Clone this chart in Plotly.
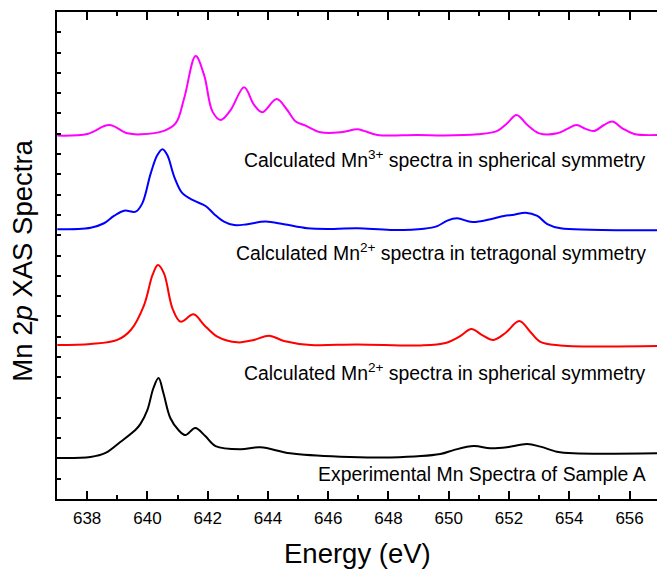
import plotly.graph_objects as go

# Energies (eV) and plotted intensities (arb. units, vertically offset)
mn3_sph_E = [637.01, 638.01, 638.73, 639.34, 639.78, 640.55, 640.94, 641.22, 641.60, 641.88,
             642.16, 642.43, 642.76, 643.21, 643.54, 643.81, 644.29, 644.64, 644.92, 645.25,
             645.75, 646.41, 646.97, 647.19, 647.63, 648.96, 649.84, 650.95, 651.61, 651.94,
             652.25, 652.61, 653.00, 653.60, 653.93, 654.24, 654.54, 654.82, 655.15, 655.43,
             655.76, 656.15, 656.93]
mn3_sph_I = [17.91, 17.99, 18.43, 18.02, 17.97, 18.14, 18.52, 19.75, 21.83, 20.90,
             19.09, 18.68, 19.17, 20.29, 19.42, 19.06, 19.71, 19.17, 18.60, 18.40,
             18.07, 18.07, 18.22, 18.14, 17.94, 17.94, 17.91, 17.97, 18.14, 18.52,
             18.93, 18.43, 18.02, 18.02, 18.24, 18.43, 18.24, 18.14, 18.43, 18.60,
             18.27, 17.99, 17.94]

mn2_tet_E = [637.01, 638.12, 638.56, 638.89, 639.23, 639.61, 639.83, 640.11, 640.33, 640.50,
             640.66, 640.89, 641.16, 641.55, 641.93, 642.21, 642.54, 642.88, 643.32, 643.92,
             644.53, 645.31, 646.19, 646.97, 648.07, 649.18, 649.62, 649.95, 650.28, 650.78,
             651.39, 651.83, 652.17, 652.55, 652.94, 653.27, 653.71, 654.71, 656.93]
mn2_tet_I = [13.29, 13.37, 13.59, 13.95, 14.21, 14.16, 14.57, 16.05, 16.95, 17.24,
             16.95, 15.88, 15.07, 14.70, 14.44, 14.05, 13.67, 13.50, 13.54, 13.67,
             13.54, 13.34, 13.31, 13.34, 13.26, 13.32, 13.45, 13.72, 13.83, 13.65,
             13.79, 13.95, 14.01, 14.11, 13.95, 13.55, 13.34, 13.27, 13.24]

mn2_sph_E = [637.01, 638.12, 639.00, 639.45, 639.89, 640.17, 640.35, 640.55, 640.83, 641.10,
             641.53, 641.88, 642.32, 642.99, 643.54, 644.04, 644.53, 645.42, 646.97, 649.06,
             649.89, 650.38, 650.75, 651.11, 651.48, 651.88, 652.34, 652.71, 653.04, 653.70,
             656.93]
mn2_sph_I = [7.59, 7.64, 7.84, 8.33, 9.56, 11.04, 11.53, 11.12, 9.40, 8.74,
             9.10, 8.58, 8.00, 7.72, 7.84, 8.05, 7.79, 7.59, 7.62, 7.57,
             7.69, 8.03, 8.38, 8.08, 7.84, 8.18, 8.77, 8.23, 7.74, 7.57,
             7.54]

exp_E = [637.01, 638.11, 638.61, 639.10, 639.60, 639.77, 640.00, 640.20, 640.37, 640.53,
         640.76, 641.03, 641.26, 641.59, 641.92, 642.26, 643.08, 643.75, 644.74, 646.40,
         648.06, 649.72, 650.16, 650.83, 651.38, 651.93, 652.60, 653.04, 653.59, 654.14,
         656.91]
exp_I = [2.02, 2.07, 2.27, 2.81, 3.40, 3.70, 4.39, 5.47, 5.96, 5.22,
         3.99, 3.40, 3.15, 3.50, 3.10, 2.61, 2.45, 2.55, 2.25, 2.08,
         2.05, 2.22, 2.41, 2.61, 2.50, 2.55, 2.71, 2.58, 2.33, 2.25,
         2.25]

series = [
    (mn3_sph_E, mn3_sph_I, "#FF00FF"),
    (mn2_tet_E, mn2_tet_I, "#0000FF"),
    (mn2_sph_E, mn2_sph_I, "#FF0000"),
    (exp_E, exp_I, "#000000"),
]

labels = [
    "Calculated Mn<sup>3+</sup> spectra in spherical symmetry",
    "Calculated Mn<sup>2+</sup> spectra in tetragonal symmetry",
    "Calculated Mn<sup>2+</sup> spectra in spherical symmetry",
    "Experimental Mn Spectra of Sample A",
]
label_y = [16.76, 12.17, 6.26, 1.23]
label_x = 656.62

x_ticks = [638, 640, 642, 644, 646, 648, 650, 652, 654, 656]

FONT = "Arial, Liberation Sans, sans-serif"

fig = go.Figure()
for E, I, c in series:
    fig.add_trace(go.Scatter(x=E, y=I, mode="lines",
                             line=dict(color=c, width=2, shape="spline", smoothing=1.0),
                             showlegend=False, hoverinfo="skip"))

for txt, yy in zip(labels, label_y):
    fig.add_annotation(x=label_x, y=yy, xref="x", yref="y", text=txt, showarrow=False,
                       xanchor="right", yanchor="middle",
                       font=dict(family=FONT, size=19.4, color="black"))

fig.add_annotation(x=0.5, y=-0.111, xref="paper", yref="paper", text="Energy (eV)",
                   showarrow=False, xanchor="center", yanchor="middle",
                   font=dict(family=FONT, size=27.5, color="black"))
fig.add_annotation(x=-0.057, y=0.489, xref="paper", yref="paper",
                   text="Mn 2<i>p</i> XAS Spectra", textangle=-90,
                   showarrow=False, xanchor="center", yanchor="middle",
                   font=dict(family=FONT, size=27.5, color="black"))

fig.update_layout(
    width=657, height=573,
    margin=dict(l=57, r=0, t=12, b=74),
    plot_bgcolor="white", paper_bgcolor="white",
    font=dict(family=FONT, color="black"),
    xaxis=dict(range=[637, 656.91], tickvals=x_ticks, ticktext=[str(v) for v in x_ticks],
               ticks="inside", ticklen=8, tickwidth=1.5, tickcolor="black",
               showline=True, linecolor="black", linewidth=2, mirror="ticks",
               showgrid=False, zeroline=False, ticklabelstandoff=3,
               tickfont=dict(family=FONT, size=17, color="black"),
               minor=dict(dtick=1, tick0=637, ticks="inside", ticklen=4, tickwidth=1.5,
                          tickcolor="black", showgrid=False)),
    yaxis=dict(range=[0, 24], dtick=1, tick0=0, ticks="inside", ticklen=4, tickwidth=1.5,
               tickcolor="black", showticklabels=False,
               showline=True, linecolor="black", linewidth=2, mirror=False,
               showgrid=False, zeroline=False),
)

fig.write_html("out.html")
